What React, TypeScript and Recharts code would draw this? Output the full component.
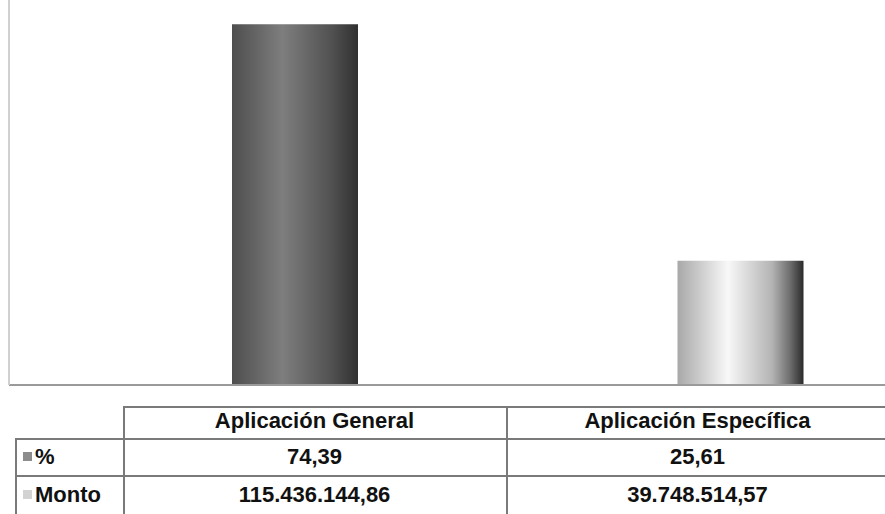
import { BarChart, Bar, XAxis, YAxis, Cell } from 'recharts';

const categories = ['Aplicación General', 'Aplicación Específica'];
const percentValues = [74.39, 25.61];
const montoLabels = ['115.436.144,86', '39.748.514,57'];
const percentLabels = ['74,39', '25,61'];
const rowNames = ['%', 'Monto'];

const chartData = categories.map((name, i) => ({ name, pct: percentValues[i] }));

const gridLine = '#7a7a7a';
const font = '"Liberation Sans Narrow", "Liberation Sans", Arial, sans-serif';

const cellText: React.CSSProperties = {
  position: 'absolute',
  fontFamily: font,
  fontWeight: 700,
  fontSize: 22,
  color: '#111',
  textAlign: 'center',
  lineHeight: '1',
};

const DataTable = () => {
  const colX = [123, 506, 889];
  const rowY = [406, 438, 475, 514];
  const rowVals = [percentLabels, montoLabels];
  const keyColors = ['#8c8c8c', '#d2d2d2'];
  return (
    <>
      {/* horizontal lines */}
      <div style={{ position: 'absolute', left: colX[0], top: rowY[0], width: 885 - colX[0], height: 0, borderTop: `2px solid ${gridLine}` }} />
      <div style={{ position: 'absolute', left: 15, top: rowY[1], width: 870, height: 0, borderTop: `2px solid ${gridLine}` }} />
      <div style={{ position: 'absolute', left: 15, top: rowY[2], width: 870, height: 0, borderTop: `2px solid ${gridLine}` }} />
      {/* vertical lines */}
      <div style={{ position: 'absolute', left: 15, top: rowY[1], width: 0, height: 514 - rowY[1], borderLeft: `2px solid ${gridLine}` }} />
      <div style={{ position: 'absolute', left: colX[0], top: rowY[0], width: 0, height: 514 - rowY[0], borderLeft: `2px solid ${gridLine}` }} />
      <div style={{ position: 'absolute', left: colX[1], top: rowY[0], width: 0, height: 514 - rowY[0], borderLeft: `2px solid ${gridLine}` }} />
      {categories.map((c, i) => (
        <div key={c} style={{ ...cellText, left: colX[i], width: colX[i + 1] - colX[i], top: rowY[0] + 4 }}>{c}</div>
      ))}
      {rowNames.map((r, ri) => (
        <div key={r}>
          <div style={{ position: 'absolute', left: 23, top: (rowY[ri + 1] + rowY[ri + 2]) / 2 - 5, width: 9, height: 9, background: keyColors[ri] }} />
          <div style={{ ...cellText, left: 35, textAlign: 'left', top: (rowY[ri + 1] + rowY[ri + 2]) / 2 - 11 }}>{r}</div>
          {rowVals[ri].map((v, ci) => (
            <div key={v} style={{ ...cellText, left: colX[ci], width: colX[ci + 1] - colX[ci], top: (rowY[ri + 1] + rowY[ri + 2]) / 2 - 11 }}>{v}</div>
          ))}
        </div>
      ))}
    </>
  );
};

export default function App() {
  return (
    <div style={{ position: 'absolute', left: 0, top: 0, width: 885, height: 514, overflow: 'hidden', background: '#fff' }}>
      <BarChart width={963} height={390} data={chartData} margin={{ top: -3, right: 0, bottom: 4, left: 8 }} barCategoryGap={0}>
        <defs>
          <linearGradient id="darkCyl" x1="0" y1="0" x2="1" y2="0">
            <stop offset="0%" stopColor="#4e4e4e" />
            <stop offset="40%" stopColor="#7e7e7e" />
            <stop offset="80%" stopColor="#505050" />
            <stop offset="100%" stopColor="#303030" />
          </linearGradient>
          <linearGradient id="lightCyl" x1="0" y1="0" x2="1" y2="0">
            <stop offset="0%" stopColor="#a8a8a8" />
            <stop offset="40%" stopColor="#f8f8f8" />
            <stop offset="75%" stopColor="#b4b4b4" />
            <stop offset="90%" stopColor="#6a6a6a" />
            <stop offset="100%" stopColor="#2a2a2a" />
          </linearGradient>
        </defs>
        <XAxis dataKey="name" tick={false} tickLine={false} height={1} padding={{ left: 63, right: 0 }} axisLine={{ stroke: '#9a9a9a', strokeWidth: 2 }} />
        <YAxis domain={[0, 80]} width={1} tick={false} tickLine={false} axisLine={{ stroke: '#d0d0d0', strokeWidth: 2 }} />
        <Bar dataKey="pct" barSize={126} isAnimationActive={false}>
          {chartData.map((d, i) => (
            <Cell key={d.name} fill={i === 0 ? 'url(#darkCyl)' : 'url(#lightCyl)'} />
          ))}
        </Bar>
      </BarChart>
      <DataTable />
    </div>
  );
}
